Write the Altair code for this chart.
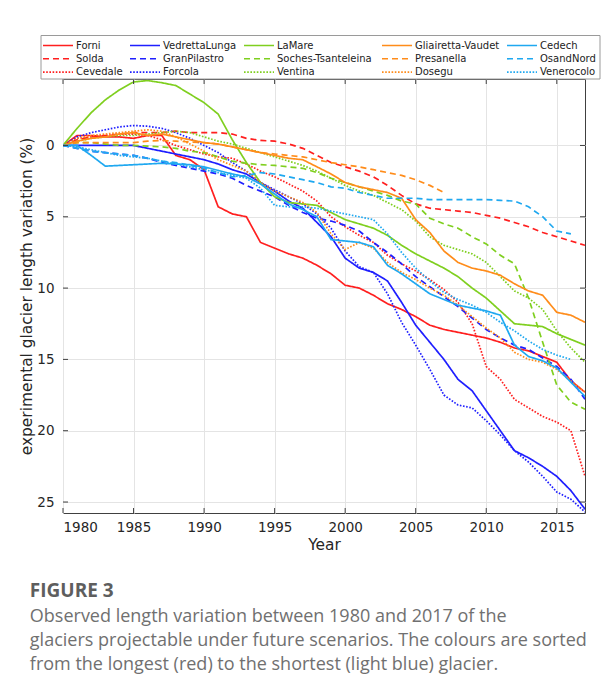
import altair as alt
import pandas as pd

years = list(range(1980, 2018))

forni = [0, -0.7, -0.7, -0.6, -0.6, -0.5, -0.7, -0.7, 0.7, 1.0,
         1.7, 4.3, 4.8, 5.0, 6.8, 7.2, 7.6, 7.9, 8.4, 9.0,
         9.8, 10.0, 10.5, 11.1, 11.5, 12.0, 12.6, 12.9, 13.1, 13.3,
         13.5, 13.8, 14.2, 14.4, 14.8, 15.2, 16.5, 17.3]
solda = [0, -0.4, -0.6, -0.7, -0.8, -0.9, -0.9, -0.9, -1.0, -0.9,
         -0.9, -0.9, -0.8, -0.5, -0.35, -0.3, -0.1, 0.2, 0.7, 1.2,
         1.5, 1.8, 2.2, 2.8, 3.5, 4.1, 4.4, 4.5, 4.6, 4.7,
         4.9, 5.1, 5.4, 5.7, 6.1, 6.4, 6.7, 7.0]
cevedale = [0, -0.5, -0.6, -0.7, -0.8, -0.8, -0.7, -0.4, 0, 0.3,
            0.6, 0.8, 0.9, 1.3, 1.8, 2.2, 2.7, 3.2, 3.9, 5.0,
            5.7, 6.3, 6.8, 7.7, 8.3, 8.8, 9.4, 10.1, 11.0, 12.5,
            15.5, 16.4, 17.8, 18.4, 19.0, 19.4, 20.0, 23.2]
vedretta = [0, 0, 0, 0, 0, 0, 0.2, 0.4, 0.6, 0.8,
            1.0, 1.3, 1.7, 2.0, 2.6, 3.2, 3.9, 4.4, 5.4, 6.4,
            7.9, 8.6, 8.9, 9.5, 11.0, 12.6, 13.8, 15.0, 16.4, 17.2,
            18.6, 20.0, 21.4, 21.9, 22.5, 23.2, 24.2, 25.5]
granpilastro = [0, 0.2, 0.4, 0.5, 0.6, 0.7, 0.9, 1.2, 1.4, 1.6,
                1.8, 2.0, 2.3, 2.8, 3.2, 3.6, 4.2, 4.7, 5.1, 5.3,
                5.6, 6.0, 6.8, 7.5, 8.3, 9.2, 9.9, 10.6, 11.3, 12.1,
                12.9, 13.5, 14.0, 14.3, 14.9, 15.5, 16.4, 17.8]
forcola = [0, -0.6, -0.9, -1.1, -1.3, -1.4, -1.35, -1.2, -0.9, -0.5,
           0.0, 0.5, 1.2, 1.8, 2.6, 3.1, 3.6, 4.1, 4.8, 5.8,
           7.4, 8.5, 8.9, 10.4, 12.4, 14.0, 15.7, 17.5, 18.2, 18.4,
           19.3, 20.3, 21.4, 22.2, 23.2, 24.3, 24.8, 25.7]
lamare = [0, -1.2, -2.3, -3.2, -3.9, -4.45, -4.55, -4.4, -4.2, -3.6,
          -3.0, -2.2, -0.4, 1.2, 2.6, 3.6, 4.0, 4.1, 4.2, 4.7,
          5.2, 5.5, 5.8, 6.3, 7.0, 7.6, 8.1, 8.6, 9.2, 10.0,
          10.7, 11.6, 12.5, 12.6, 12.7, 13.2, 13.6, 14.0]
soches = [0, -0.2, -0.2, -0.1, 0, 0, 0.05, 0.1, 0.2, 0.4,
          0.5, 0.8, 1.1, 1.25, 1.35, 1.4, 1.5, 1.6, 1.9, 2.3,
          2.6, 2.9, 3.2, 3.5, 3.9, 4.1, 5.1, 5.5, 5.8, 6.4,
          6.9, 7.7, 8.3, 10.7, 13.8, 16.8, 18.0, 18.5]
ventina = [0, -0.3, -0.5, -0.6, -0.7, -0.7, -0.8, -0.9, -1.0, -0.9,
           -0.6, -0.3, -0.1, 0.2, 0.5, 0.8, 1.1, 1.4, 1.8, 2.3,
           2.8, 3.2, 3.5, 4.0, 4.5, 5.3, 6.4, 7.0, 7.3, 7.6,
           8.2, 9.2, 10.2, 10.7, 11.5, 13.0, 14.2, 15.2]
gliairetta = [0, -0.3, -0.5, -0.6, -0.8, -0.9, -0.7, -0.8, -0.6, -0.4,
              -0.2, -0.1, 0.1, 0.3, 0.5, 0.7, 0.9, 1.0, 1.5, 2.0,
              2.6, 2.9, 3.1, 3.3, 3.7, 5.2, 6.1, 7.4, 8.2, 8.6,
              8.8, 9.1, 9.7, 10.2, 10.5, 11.7, 11.9, 12.4]
presanella = [0, -0.2, -0.2, -0.2, -0.2, -0.2, -0.3, -0.35, -0.3, -0.25,
              -0.2, -0.1, 0.1, 0.3, 0.5, 0.6, 0.7, 0.8, 1.0, 1.2,
              1.35, 1.5, 1.7, 1.9, 2.1, 2.4, 2.8, 3.3]
dosegu = [0, -0.5, -0.7, -0.8, -0.9, -1.0, -1.1, -1.0, -0.6, -0.1,
          0.4, 1.0, 1.4, 1.8, 2.6, 3.2, 3.6, 4.0, 4.7, 6.2,
          7.3, 6.8, 7.2, 8.2, 8.9, 9.4, 10.0, 10.5, 11.2, 12.0,
          12.8, 13.5, 14.5, 15.0, 15.2, 15.7, 16.5, 17.3]
cedech = [0, 0, 0.7, 1.45, 1.4, 1.35, 1.3, 1.25, 1.3, 1.35,
          1.5, 1.75, 2.0, 2.2, 2.7, 3.4, 4.1, 4.5, 5.0, 6.6,
          6.7, 6.8, 7.1, 8.4, 9.0, 9.7, 10.4, 10.8, 11.2, 11.4,
          11.6, 11.9, 14.0, 14.8, 15.1, 15.6, 16.6, 17.6]
osandnord = [0, 0.2, 0.4, 0.5, 0.6, 0.7, 0.9, 1.1, 1.2, 1.4,
             1.6, 1.9, 2.2, 2.1, 1.9, 2.0, 2.2, 2.4, 2.6, 2.9,
             3.0, 3.3, 3.5, 3.7, 3.7, 3.7, 3.8, 3.8, 3.8, 3.8,
             3.8, 3.85, 3.9, 4.3, 5.0, 6.0, 6.2]
venerocolo = [0, 0.1, 0.3, 0.5, 0.7, 0.8, 0.9, 1.1, 1.3, 1.5,
              1.7, 1.9, 2.1, 2.3, 3.0, 4.2, 4.3, 4.3, 4.4, 4.6,
              4.8, 5.0, 5.2, 6.2, 7.5, 8.6, 9.5, 10.3, 10.8, 11.2,
              11.7, 12.4, 13.0, 13.7, 14.3, 14.7, 15.0]

# legend order: column-major, 3 rows x 5 columns
names = ["Forni", "Solda", "Cevedale",
         "VedrettaLunga", "GranPilastro", "Forcola",
         "LaMare", "Soches-Tsanteleina", "Ventina",
         "Gliairetta-Vaudet", "Presanella", "Dosegu",
         "Cedech", "OsandNord", "Venerocolo"]
series = {
    "Forni": forni, "Solda": solda, "Cevedale": cevedale,
    "VedrettaLunga": vedretta, "GranPilastro": granpilastro, "Forcola": forcola,
    "LaMare": lamare, "Soches-Tsanteleina": soches, "Ventina": ventina,
    "Gliairetta-Vaudet": gliairetta, "Presanella": presanella, "Dosegu": dosegu,
    "Cedech": cedech, "OsandNord": osandnord, "Venerocolo": venerocolo,
}

RED, BLUE, GREEN, ORANGE, LBLUE = "#ff1f1f", "#1f1fff", "#7fcf1f", "#ff8c1a", "#1fa8f0"
colors = [RED] * 3 + [BLUE] * 3 + [GREEN] * 3 + [ORANGE] * 3 + [LBLUE] * 3
SOLID, DASH, DOT = [1, 0], [6, 4], [1.6, 1.6]
dashes = [SOLID, DASH, DOT] * 5

x_ticks = [1980, 1985, 1990, 1995, 2000, 2005, 2010, 2015]
y_ticks = [0, 5, 10, 15, 20, 25]

rows = []
for i, n in enumerate(names):
    for y, v in zip(years, series[n]):
        rows.append({"year": y, "val": v, "glacier": n, "order": i})
df = pd.DataFrame(rows)

W, H = 522, 434
xs = alt.Scale(domain=[1980, 2017], nice=False, zero=False)
ys = alt.Scale(domain=[-4.66, 25.77], reverse=True, nice=False, zero=False)
cscale = alt.Scale(domain=names, range=colors)
dscale = alt.Scale(domain=names, range=dashes)

lines = alt.Chart(df).mark_line(strokeWidth=1.7, clip=True).encode(
    x=alt.X("year:Q", scale=xs, axis=alt.Axis(
        values=x_ticks, format="d", title="Year", tickSize=0, labelPadding=7,
        titlePadding=4)),
    y=alt.Y("val:Q", scale=ys, axis=alt.Axis(
        values=y_ticks, title="experimental glacier length variation (%)",
        tickSize=0, labelPadding=9, titlePadding=2)),
    color=alt.Color("glacier:N", scale=cscale, legend=None),
    strokeDash=alt.StrokeDash("glacier:N", scale=dscale, legend=None),
    order="order:Q",
)

# inward tick marks on all four sides (MATLAB box style)
xt = pd.DataFrame({"t": x_ticks})
yt = pd.DataFrame({"t": y_ticks})
tcol = "#404040"
xb = alt.Chart(xt).mark_rule(color=tcol).encode(x=alt.X("t:Q", scale=xs), y=alt.value(H), y2=alt.value(H - 5))
xtp = alt.Chart(xt).mark_rule(color=tcol).encode(x=alt.X("t:Q", scale=xs), y=alt.value(0), y2=alt.value(5))
yl = alt.Chart(yt).mark_rule(color=tcol).encode(y=alt.Y("t:Q", scale=ys), x=alt.value(0), x2=alt.value(5))
yr = alt.Chart(yt).mark_rule(color=tcol).encode(y=alt.Y("t:Q", scale=ys), x=alt.value(W), x2=alt.value(W - 5))

# legend layout (pixel offsets relative to the plot's top-left corner)
LEG_COL_X = [-20, 67, 181, 319, 444]
LEG_ROW_Y = [-33.5, -20.2, -6.9]
SYM_LEN, LAB_OFF = 30, 33
leg = pd.DataFrame({
    "glacier": names,
    "x0": [LEG_COL_X[i // 3] for i in range(len(names))],
    "y0": [LEG_ROW_Y[i % 3] for i in range(len(names))],
})
leg["x1"] = leg["x0"] + SYM_LEN
leg["tx"] = leg["x0"] + LAB_OFF

box = alt.Chart(pd.DataFrame({"a": [0]})).mark_rect(
    fill="white", stroke="#9a9a9a", strokeWidth=1
).encode(x=alt.value(-22), x2=alt.value(537), y=alt.value(-43.5), y2=alt.value(0))

leg_sym = alt.Chart(leg).mark_rule(strokeWidth=1.6).encode(
    x=alt.X("x0:Q", scale=None, axis=None), x2="x1:Q",
    y=alt.Y("y0:Q", scale=None, axis=None),
    color=alt.Color("glacier:N", scale=cscale, legend=None),
    strokeDash=alt.StrokeDash("glacier:N", scale=dscale, legend=None),
)
leg_txt = alt.Chart(leg).mark_text(
    align="left", baseline="middle", font="DejaVu Sans", fontSize=10, color="#222"
).encode(
    x=alt.X("tx:Q", scale=None, axis=None),
    y=alt.Y("y0:Q", scale=None, axis=None),
    text="glacier:N",
)

caption = [
    "Observed length variation between 1980 and 2017 of the",
    "glaciers projectable under future scenarios. The colours are sorted",
    "from the longest (red) to the shortest (light blue) glacier.",
]

chart = alt.layer(lines, xb, xtp, yl, yr, box, leg_sym, leg_txt).properties(
    width=W, height=H,
    padding={"left": 11, "top": 27, "right": 0, "bottom": 4},
    title=alt.Title(
        text="FIGURE 3", subtitle=caption, orient="bottom", anchor="start",
        frame="bounds", offset=29, dx=10, font="Open Sans", fontSize=19,
        fontWeight="bold", color="#5e5e5e", subtitleFont="Open Sans",
        subtitleFontSize=18, subtitleColor="#707070", subtitleLineHeight=24,
        subtitlePadding=7,
    ),
).configure_view(stroke="#404040", strokeWidth=1).configure_axis(
    labelFont="DejaVu Sans", labelFontSize=13.5, labelColor="#262626",
    titleFont="DejaVu Sans", titleFontSize=15.4, titleFontWeight="normal", titleColor="#262626",
    gridColor="#e4e4e4", gridWidth=1, domain=False,
)

chart.save("out.html", embed_options={"renderer": "svg", "actions": False})
